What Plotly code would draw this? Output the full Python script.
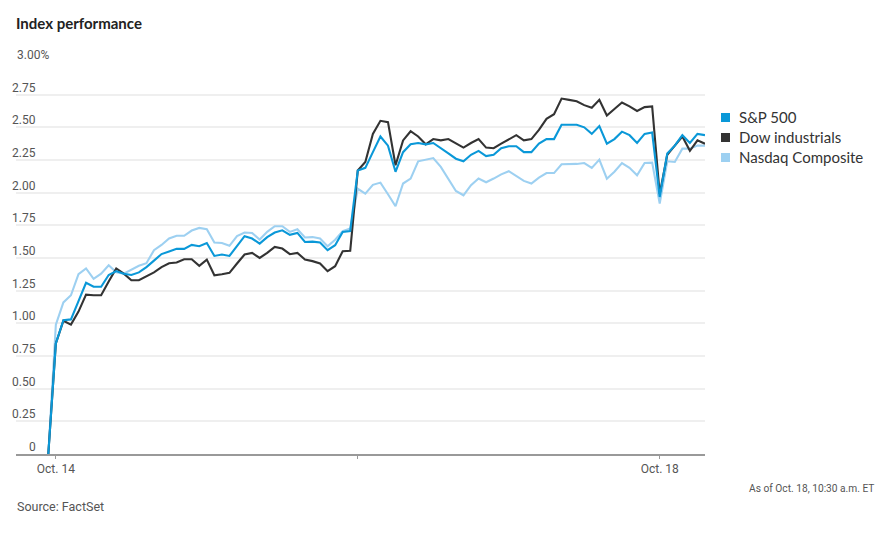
import plotly.graph_objects as go

# ---- data ----
series_names = ["S&P 500", "Dow industrials", "Nasdaq Composite"]
series_colors = ["#0a98d8", "#333333", "#9dd0f1"]

sp500 = [0, 0.846, 1.024, 1.03, 1.17, 1.31, 1.28, 1.28, 1.37, 1.40, 1.38, 1.37, 1.39, 1.43, 1.48, 1.53, 1.55, 1.57, 1.57, 1.60, 1.59,
         1.615, 1.516, 1.527, 1.516, 1.59, 1.667, 1.649, 1.61, 1.66, 1.695, 1.712, 1.677, 1.692, 1.623, 1.625, 1.618, 1.56, 1.598, 1.70, 1.707,
         2.17,
         2.19, 2.31, 2.43, 2.36, 2.16, 2.31, 2.37, 2.38, 2.37, 2.38, 2.337, 2.30, 2.26, 2.24, 2.29, 2.32, 2.28, 2.29, 2.34, 2.355, 2.355, 2.31, 2.31,
         2.375, 2.41, 2.41, 2.52, 2.52, 2.52, 2.50, 2.45, 2.51, 2.375, 2.41, 2.467, 2.44, 2.38, 2.45, 2.46,
         1.967, 2.30, 2.36, 2.44, 2.38, 2.45, 2.44]

dow = [0, 0.846, 1.02, 0.99, 1.09, 1.22, 1.215, 1.215, 1.32, 1.42, 1.38, 1.33, 1.33, 1.36, 1.39, 1.43, 1.46, 1.465, 1.49, 1.49, 1.44,
       1.488, 1.368, 1.376, 1.386, 1.458, 1.527, 1.539, 1.501, 1.539, 1.585, 1.572, 1.529, 1.539, 1.488, 1.476, 1.458, 1.399, 1.437, 1.552, 1.555,
       2.17,
       2.235, 2.45, 2.55, 2.54, 2.21, 2.40, 2.47, 2.43, 2.37, 2.41, 2.40, 2.41, 2.38, 2.345, 2.38, 2.41, 2.345, 2.34, 2.375, 2.405, 2.44, 2.40, 2.41,
       2.48, 2.565, 2.60, 2.72, 2.71, 2.70, 2.67, 2.65, 2.71, 2.59, 2.64, 2.69, 2.66, 2.625, 2.655, 2.66,
       1.99, 2.29, 2.36, 2.43, 2.32, 2.40, 2.375]

nasdaq = [0, 0.99, 1.16, 1.215, 1.376, 1.42, 1.34, 1.38, 1.445, 1.39, 1.38, 1.41, 1.44, 1.46, 1.56, 1.60, 1.65, 1.67, 1.67, 1.71, 1.73,
          1.72, 1.618, 1.615, 1.593, 1.667, 1.695, 1.692, 1.641, 1.70, 1.743, 1.743, 1.70, 1.72, 1.657, 1.66, 1.65, 1.59, 1.64, 1.705, 1.725,
          2.03,
          1.993, 2.06, 2.077, 1.988, 1.896, 2.07, 2.108, 2.24, 2.255, 2.265, 2.197, 2.10, 2.013, 1.98, 2.057, 2.108, 2.08, 2.108, 2.14, 2.164, 2.125, 2.09, 2.07,
          2.115, 2.15, 2.15, 2.217, 2.217, 2.22, 2.227, 2.19, 2.253, 2.107, 2.16, 2.227, 2.19, 2.133, 2.227, 2.23,
          1.917, 2.24, 2.235, 2.337, 2.337, 2.36, 2.36]

x_index = list(range(len(sp500)))  # 10-minute trading intervals
x_tick_vals = [1, 41, 81]
x_tick_text = ["Oct. 14", "", "Oct. 18"]
y_tick_vals = [0, 0.25, 0.5, 0.75, 1.0, 1.25, 1.5, 1.75, 2.0, 2.25, 2.5, 2.75, 3.0]
y_tick_text = ["0", "0.25", "0.50", "0.75", "1.00", "1.25", "1.50", "1.75", "2.00", "2.25", "2.50", "2.75", "3.00%"]

title_text = "Index performance"
note_text = "As of Oct. 18, 10:30 a.m. ET"
source_text = "Source: FactSet"

# ---- layout geometry (reference pixels; page body adds an 8px margin) ----
OFF = 8
W, H = 892 - OFF, 541 - OFF
L, R, T, B = 16, 705, 62, 454  # plot area in reference-page pixels
TICKF = "Roboto, sans-serif"
SANS = "Lato, Roboto, sans-serif"


def px(xp):
    return (xp - L) / (R - L)


def py(yp):
    return (B - yp) / (B - T)


fig = go.Figure()
series = [sp500, dow, nasdaq]
for i in [2, 1, 0]:
    fig.add_trace(go.Scatter(
        x=x_index, y=series[i], mode="lines", name=series_names[i],
        line=dict(color=series_colors[i], width=2.1), showlegend=False,
        hoverinfo="x+y"))

annotations = []
for v, t in zip(y_tick_vals, y_tick_text):
    if t.endswith("%"):
        annotations.append(dict(x=px(15), xref="paper", xanchor="left", y=v, yref="y",
                                yanchor="bottom", yshift=-2, text=t, showarrow=False,
                                font=dict(family=TICKF, size=12, color="#555")))
    else:
        annotations.append(dict(x=px(38), xref="paper", xanchor="right", y=v, yref="y",
                                yanchor="bottom", yshift=-2, text=t, showarrow=False,
                                font=dict(family=TICKF, size=12, color="#555")))

# legend
shapes = []
for k, (name, col) in enumerate(zip(series_names, series_colors)):
    yc = 117.5 + 20 * k
    shapes.append(dict(type="rect", xref="paper", yref="paper",
                       x0=px(721), x1=px(730), y0=py(yc - 4.5), y1=py(yc + 4.5),
                       fillcolor=col, line=dict(width=0)))
    annotations.append(dict(x=px(737), xref="paper", xanchor="left", y=py(yc - 0.5), yref="paper",
                            yanchor="middle", text=name, showarrow=False,
                            font=dict(family=SANS, size=15, color="#333")))

annotations.append(dict(x=px(876), xref="paper", xanchor="right", y=py(489), yref="paper",
                        yanchor="middle", text=note_text, showarrow=False,
                        font=dict(family=TICKF, size=10.2, color="#555")))
annotations.append(dict(x=px(15), xref="paper", xanchor="left", y=py(507), yref="paper",
                        yanchor="middle", text=source_text, showarrow=False,
                        font=dict(family=TICKF, size=12.5, color="#555")))

fig.update_layout(
    width=W, height=H,
    margin=dict(l=L - OFF, r=W - (R - OFF), t=T - OFF, b=H - (B - OFF), pad=0),
    paper_bgcolor="white", plot_bgcolor="white",
    title=dict(text="<b>" + title_text + "</b>", x=(16 - OFF) / W, xanchor="left", xref="container",
               y=1 - (24 - OFF) / H, yanchor="middle", yref="container",
               font=dict(family=SANS, size=15, color="#222")),
    xaxis=dict(range=[-4.28, 87], showgrid=False, zeroline=False, showline=True,
               linecolor="#999", linewidth=2, ticks="outside", ticklen=3, tickwidth=1,
               tickcolor="#999", tickvals=x_tick_vals, ticktext=x_tick_text,
               tickfont=dict(family=TICKF, size=12, color="#555"), fixedrange=True),
    yaxis=dict(range=[0, 3], tickvals=y_tick_vals, showticklabels=False, showgrid=True,
               gridcolor="#efefef", gridwidth=2, zeroline=False, showline=False, ticks="",
               fixedrange=True),
    annotations=annotations, shapes=shapes,
    showlegend=False,
)

fig.write_html("out.html")
